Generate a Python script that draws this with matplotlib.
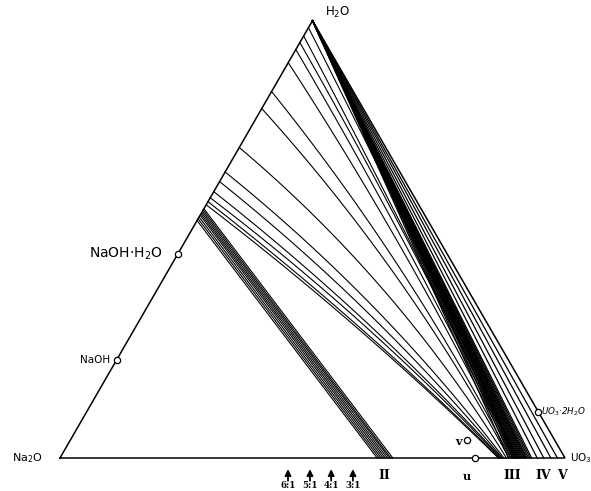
import numpy as np
import matplotlib.pyplot as plt

# ternary composition: w = water fraction, u = UO3 fraction (rest Na2O)
# tie lines to phase II: start on the Na2O-H2O edge (w), end on the base (u)
ii_start_w = [0.543, 0.547, 0.551, 0.555, 0.558, 0.561, 0.564, 0.567, 0.570]
ii_end_u = [0.628, 0.632, 0.636, 0.640, 0.644, 0.648, 0.652, 0.655, 0.659]

# fan of tie lines from the Na2O-H2O edge towards phase III
fan_start_w = [0.579, 0.586, 0.595, 0.609, 0.632, 0.654, 0.710, 0.799, 0.838,
               0.904, 0.934, 0.950, 0.965, 0.984]
fan_end_u = [0.868, 0.870, 0.872, 0.874, 0.876, 0.879, 0.884, 0.889, 0.892,
             0.896, 0.899, 0.901, 0.903, 0.905]
fan_bend = [0.015, 0.015, 0.02, 0.02, 0.025, 0.03, 0.04, 0.03, 0.025,
            0.015, 0.01, 0.01, 0.005, 0.005]

# tie lines from the H2O corner down to III, IV and V
vertex_end_u = [0.888, 0.893, 0.897, 0.900, 0.903, 0.905, 0.907, 0.909, 0.911,
                0.913, 0.915, 0.917, 0.919, 0.921, 0.923, 0.925, 0.928, 0.931,
                0.934, 0.945, 0.958, 0.972, 0.985]

# marked compositions (w, u)
points_w = [0.467, 0.224, 0.105, 0.0, 0.041]
points_u = [0.0, 0.0, 0.895, 0.822, 0.786]

# Na2O:UO3 ratio arrows on the base
ratio_u = [0.4515, 0.495, 0.537, 0.580]
ratio_labels = ['6:1', '5:1', '4:1', '3:1']

phase_u = [0.6416, 0.895, 0.956, 0.994]
phase_labels = ['II', 'III', 'IV', 'V']

S3 = np.sqrt(3) / 2


def cart(w, u):
    w = np.asarray(w, dtype=float)
    u = np.asarray(u, dtype=float)
    return u + w / 2, w * S3


fig = plt.figure(figsize=(5.91, 4.91), dpi=100)
ax = fig.add_axes([0, 0, 1, 1])
ax.set_xlim(-0.1188, 1.0515)
ax.set_ylim(-0.0653, 0.9069)
ax.set_aspect('equal')
ax.axis('off')

# triangle
tx, ty = cart([0, 1, 0, 0], [0, 0, 1, 0])
ax.plot(tx, ty, color='black', lw=1.1, solid_joinstyle='miter')

# lines to II
for w0, u1 in zip(ii_start_w, ii_end_u):
    x, y = cart([w0, 0], [0, u1])
    ax.plot(x, y, color='black', lw=0.8)

# slightly curved fan
s = np.linspace(0, 1, 60)
for w0, u1, b in zip(fan_start_w, fan_end_u, fan_bend):
    x0, y0 = cart(w0, 0)
    x2, y2 = cart(0, u1)
    mx, my = (x0 + x2) / 2, (y0 + y2) / 2
    L = np.hypot(x2 - x0, y2 - y0)
    nx, ny = (y0 - y2) / L, (x2 - x0) / L
    cx, cy = mx + nx * b * 2 * L, my + ny * b * 2 * L
    bx = (1 - s) ** 2 * x0 + 2 * (1 - s) * s * cx + s ** 2 * x2
    by = (1 - s) ** 2 * y0 + 2 * (1 - s) * s * cy + s ** 2 * y2
    ax.plot(bx, by, color='black', lw=0.8)

# lines from the water corner
for u1 in vertex_end_u:
    x, y = cart([1, 0], [0, u1])
    ax.plot(x, y, color='black', lw=0.9)

# marked points
px, py = cart(points_w, points_u)
ax.plot(px, py, 'o', ms=4.5, mfc='white', mec='black', mew=0.9, zorder=5)

# ratio arrows
for u, lab in zip(ratio_u, ratio_labels):
    ax.annotate('', xy=(u, -0.022), xytext=(u, -0.045),
                arrowprops=dict(arrowstyle='-|>', color='black', lw=1.3,
                                mutation_scale=9, shrinkA=0, shrinkB=0))
    ax.text(u, -0.0535, lab, ha='center', va='center', fontsize=6.3,
            fontweight='bold', family='DejaVu Serif')

for u, lab in zip(phase_u, phase_labels):
    ax.text(u, -0.035, lab, ha='center', va='center', fontsize=9,
            fontweight='bold', family='DejaVu Serif')

ax.text(-0.065, 0.0, 'Na$_2$O', ha='center', va='center', fontsize=8)
ax.text(1.010, 0.0, 'UO$_3$', ha='left', va='center', fontsize=7.5)
ax.text(0.525, 0.883, 'H$_2$O', ha='left', va='center', fontsize=8.5)
ax.text(0.204, 0.404, 'NaOH·H$_2$O', ha='right', va='center', fontsize=10)
ax.text(0.099, 0.194, 'NaOH', ha='right', va='center', fontsize=7.5)
ax.text(0.952, 0.091, 'UO$_3$·2H$_2$O', ha='left', va='center', fontsize=6.3,
        style='italic')
ax.text(0.796, 0.032, 'v', ha='right', va='center', fontsize=8,
        fontweight='bold', family='DejaVu Serif')
ax.text(0.806, -0.037, 'u', ha='center', va='center', fontsize=8,
        fontweight='bold', family='DejaVu Serif')

fig.savefig('out.png', dpi=100)
